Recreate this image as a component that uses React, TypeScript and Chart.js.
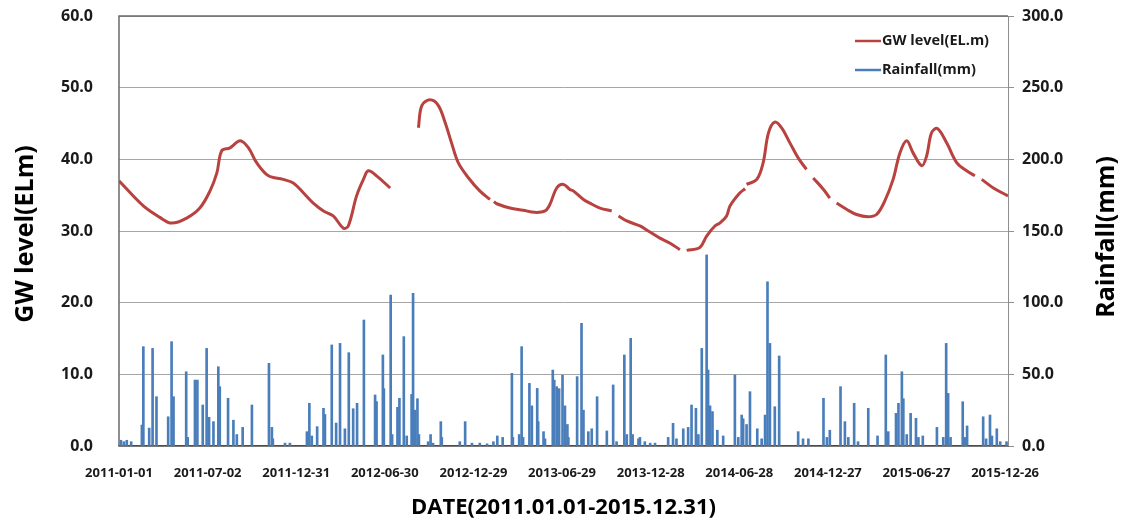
import React, { useEffect, useRef } from 'react';
import { Chart, registerables } from 'chart.js';

Chart.register(...registerables);

// ---------- data ----------
const startDate = '2011-01-01';
const xTickLabels = [
  '2011-01-01', '2011-07-02', '2011-12-31', '2012-06-30', '2012-12-29', '2013-06-29',
  '2013-12-28', '2014-06-28', '2014-12-27', '2015-06-27', '2015-12-26',
];
const xAxisTitle = 'DATE(2011.01.01-2015.12.31)';
const leftAxisTitle = 'GW level(ELm)';
const rightAxisTitle = 'Rainfall(mm)';
const seriesNames = ['GW level(EL.m)', 'Rainfall(mm)'];

// day offsets from 2011-01-01 and groundwater level (null = missing record)
const gwDays = [
  0, 50, 84, 108, 139, 166, 187, 201, 211, 228, 249, 266, 283, 307, 337, 358, 379, 399, 420, 440,
  461, 471, 488, 502, 512, 529, 557, 558, 615, 622, 639, 656, 670, 683, 697, 718, 741, 762, 766,
  770, 776, 803, 830, 854, 875, 885, 899, 913, 926, 933, 954, 967, 988, 1012, 1020, 1026, 1043,
  1070, 1087, 1111, 1132, 1152, 1158, 1166, 1193, 1207, 1224, 1234, 1248, 1255, 1275, 1286, 1287,
  1289, 1310, 1323, 1334, 1347, 1361, 1378, 1395, 1412, 1418, 1426, 1447, 1460, 1466, 1474, 1495,
  1515, 1538, 1556, 1573, 1590, 1604, 1618, 1631, 1649, 1659, 1669, 1681, 1700, 1721, 1741, 1758,
  1764, 1772, 1796, 1826,
];
const gwLevels = [
  37.0, 33.5, 31.9, 31.1, 31.8, 33.2, 35.6, 38.1, 41.2, 41.6, 42.6, 41.6, 39.5, 37.7, 37.2, 36.7, 35.3, 33.9, 32.8, 32.1,
  30.4, 30.7, 34.9, 37.2, 38.4, 37.7, 36.0, null, 44.4, 47.5, 48.3, 47.5, 45.1, 42.3, 39.5, 37.4, 35.6, 34.4, null,
  34.1, 33.8, 33.2, 32.9, 32.6, 32.8, 33.7, 36.0, 36.5, 35.8, 35.6, 34.4, 33.9, 33.2, 32.8, null, 32.1, 31.4,
  30.7, 30.0, 29.0, 28.3, 27.4, null, 27.3, 27.7, 29.3, 30.7, 31.1, 32.1, 33.5, 35.3, 35.9, null,
  36.5, 37.2, 39.5, 43.7, 45.2, 44.4, 42.3, 40.2, 38.6, null, 37.4, 35.8, 34.6, null, 33.9, 33.0,
  32.3, 32.0, 32.3, 34.2, 37.2, 40.9, 42.6, 40.9, 39.1, 40.5, 43.7, 44.3, 42.3, 39.5, 38.4, 37.7,
  null, 37.2, 36.0, 34.9,
];

// day offsets from 2011-01-01 and daily rainfall (mm)
const rainDays = [
  4, 10, 16, 25, 47, 50, 62, 69, 77, 101, 108, 112, 138, 141, 156, 161, 172, 180, 185, 194,
  204, 207, 224, 235, 242, 254, 273, 308, 314, 316, 341, 351, 386, 391, 396, 407, 420, 423, 437, 446,
  454, 464, 472, 481, 489, 503, 526, 529, 542, 544, 558, 561, 572, 576, 585, 591, 601, 604, 608, 613,
  616, 635, 640, 645, 661, 663, 700, 711, 725, 741, 756, 769, 777, 788, 807, 809, 822, 827, 830, 843,
  848, 859, 861, 872, 875, 891, 894, 899, 904, 911, 916, 921, 923, 941, 950, 954, 964, 971, 982, 1002,
  1015, 1022, 1038, 1043, 1051, 1055, 1067, 1070, 1080, 1091, 1101, 1128, 1138, 1145, 1159, 1169, 1176, 1185, 1190, 1197,
  1207, 1210, 1214, 1219, 1229, 1241, 1265, 1272, 1279, 1282, 1289, 1296, 1311, 1320, 1327, 1332, 1337, 1347, 1356, 1395,
  1405, 1416, 1447, 1454, 1460, 1482, 1491, 1498, 1510, 1518, 1539, 1558, 1575, 1580, 1596, 1601, 1608, 1611, 1618, 1626,
  1637, 1642, 1651, 1680, 1693, 1699, 1703, 1708, 1733, 1738, 1742, 1775, 1781, 1789, 1793, 1803, 1810, 1823,
];
const rainValues = [
  4, 3, 4, 3, 14.6, 69.3, 12.5, 68.1, 34.4, 20.4, 72.8, 34.4, 51.8, 6, 46, 46, 28.6, 68.1, 20, 17,
  55.3, 41.4, 33.3, 18, 8, 13, 28.6, 57.7, 13, 5, 2, 2, 10, 29.8, 7, 13.5, 26.3, 22, 70.5, 16,
  71.6, 12, 65.1, 26, 29.8, 87.9, 35.6, 31, 63.5, 40, 105.3, 8, 27, 33.3, 76.3, 7, 36, 106.5, 25, 33,
  8, 3, 8, 2, 17, 6, 3, 17, 2, 2, 1.5, 3, 7, 6, 50.7, 6, 8, 69.3, 6, 43.7,
  28, 40.2, 17, 10, 5, 53, 46, 41.4, 40, 49.5, 28, 15, 6, 48.4, 85.6, 25, 10, 12, 34.4, 10.5,
  42.6, 3, 63.5, 8, 75.1, 8, 5, 6, 3, 2, 2, 6, 15.8, 5, 12, 13, 28.6, 26.3, 8, 68.1,
  133.3, 53, 28, 24, 11, 7, 49.5, 6, 21.6, 19, 15, 37.9, 12, 5, 21.6, 114.6, 71.6, 27.4, 62.8, 10,
  5, 5, 33.3, 6, 11, 41.4, 17, 6, 29.8, 3, 26.3, 7, 63.5, 10, 22.8, 29.8, 51.8, 33, 8, 22.8,
  19.3, 6, 7, 13, 6, 71.6, 36.7, 6, 30.9, 6, 14, 20.4, 5, 21.6, 7, 12, 3, 3,
];

const gwTicks = [0, 10, 20, 30, 40, 50, 60];
const rainTicks = [0, 50, 100, 150, 200, 250, 300];
const lastDay = 1826;

// ---------- helpers ----------
const DAY_MS = 86400000;
const dayOf = (s: string) => Math.round((Date.parse(s) - Date.parse(startDate)) / DAY_MS);
const xTickDays = xTickLabels.map(dayOf);

const FONT = '"Open Sans", "DejaVu Sans", sans-serif';
const GW_COLOR = '#B8423F';
const RAIN_COLOR = '#4A7EBB';

const decorPlugin = {
  id: 'decor',
  beforeDatasetsDraw(chart: any) {
    const { ctx, chartArea: a } = chart;
    ctx.save();
    ctx.strokeStyle = '#6b6b6b';
    ctx.lineWidth = 1.5;
    ctx.beginPath();
    ctx.moveTo(a.left, a.bottom);
    ctx.lineTo(a.left, a.top);
    ctx.lineTo(a.right, a.top);
    ctx.stroke();
    ctx.strokeStyle = '#8f8f8f';
    ctx.lineWidth = 1;
    ctx.beginPath();
    ctx.moveTo(a.right + 0.5, a.top);
    ctx.lineTo(a.right + 0.5, a.bottom);
    ctx.stroke();
    ctx.restore();
  },
  afterDraw(chart: any) {
    const { ctx } = chart;
    ctx.save();
    // legend
    const ds = chart.data.datasets;
    ctx.font = `bold 14.5px ${FONT}`;
    ctx.textBaseline = 'middle';
    ctx.textAlign = 'left';
    const legendY = [41, 70];
    ds.forEach((d: any, i: number) => {
      const y = legendY[i];
      ctx.strokeStyle = d.legendColor;
      ctx.lineWidth = 2.5;
      ctx.beginPath();
      ctx.moveTo(855, y);
      ctx.lineTo(881, y);
      ctx.stroke();
      ctx.fillStyle = '#1a1a1a';
      ctx.fillText(d.label, 882, y);
    });
    // axis titles (both read bottom-to-top)
    ctx.font = `bold 25px ${FONT}`;
    ctx.fillStyle = '#000';
    ctx.textAlign = 'center';
    [[26, 234, leftAxisTitle], [1107, 237, rightAxisTitle]].forEach(([x, y, t]) => {
      ctx.save();
      ctx.translate(x as number, y as number);
      ctx.rotate(-Math.PI / 2);
      ctx.fillText(t as string, 0, 0);
      ctx.restore();
    });
    ctx.restore();
  },
};

const zeroVPad = (s: any) => {
  s.paddingTop = 0;
  s.paddingBottom = 0;
};

export default function App() {
  const ref = useRef<HTMLCanvasElement | null>(null);

  useEffect(() => {
    if (!ref.current) return;
    const chart = new Chart(ref.current, {
      type: 'bar',
      data: {
        datasets: [
          {
            type: 'line',
            label: seriesNames[0],
            legendColor: GW_COLOR,
            data: gwDays.map((d, i) => ({ x: d, y: gwLevels[i] })),
            borderColor: GW_COLOR,
            borderWidth: 3,
            pointRadius: 0,
            tension: 0.35,
            spanGaps: false,
            yAxisID: 'y',
            order: 0,
          } as any,
          {
            type: 'bar',
            label: seriesNames[1],
            legendColor: RAIN_COLOR,
            data: rainDays.map((d, i) => ({ x: d, y: rainValues[i] })),
            backgroundColor: RAIN_COLOR,
            barThickness: 2,
            yAxisID: 'y1',
            order: 1,
          } as any,
        ],
      },
      options: {
        animation: false,
        responsive: false,
        layout: { padding: { top: 16, left: 0, right: 0, bottom: 0 } },
        plugins: { legend: { display: false }, tooltip: { enabled: false } },
        scales: {
          x: {
            type: 'linear',
            min: 0,
            max: lastDay,
            offset: false,
            grid: { display: false },
            border: { display: true, color: '#4d4d4d', width: 1.5 },
            afterBuildTicks: (s: any) => {
              s.ticks = xTickDays.map((v) => ({ value: v }));
            },
            afterFit: (s: any) => {
              s.height = 77;
              s.paddingLeft = 0;
              s.paddingRight = 0;
            },
            ticks: {
              autoSkip: false,
              maxRotation: 0,
              padding: 11,
              color: '#1a1a1a',
              font: { family: FONT, size: 13, weight: 'bold' },
              callback: (v: any) => xTickLabels[xTickDays.indexOf(Number(v))] ?? '',
            },
            title: {
              display: true,
              text: xAxisTitle,
              color: '#000',
              font: { family: FONT, size: 22, weight: 'bold' },
              padding: { top: 0, bottom: 2 },
            },
          },
          y: {
            position: 'left',
            min: 0,
            max: 60,
            afterBuildTicks: (s: any) => {
              s.ticks = gwTicks.map((v) => ({ value: v }));
            },
            afterFit: (s: any) => {
              s.width = 119;
              zeroVPad(s);
            },
            grid: { color: '#a6a6a6', lineWidth: 1, drawTicks: false },
            border: { display: false },
            ticks: {
              padding: 26,
              color: '#1a1a1a',
              font: { family: FONT, size: 16, weight: 'bold' },
              callback: (v: any) => Number(v).toFixed(1),
            },
          },
          y1: {
            position: 'right',
            min: 0,
            max: 300,
            afterBuildTicks: (s: any) => {
              s.ticks = rainTicks.map((v) => ({ value: v }));
            },
            afterFit: (s: any) => {
              s.width = 118;
              zeroVPad(s);
            },
            grid: { drawOnChartArea: false, drawTicks: true, tickLength: 6, color: '#8f8f8f' },
            border: { display: false },
            ticks: {
              padding: 8,
              color: '#1a1a1a',
              font: { family: FONT, size: 16, weight: 'bold' },
              callback: (v: any) => Number(v).toFixed(1),
            },
          },
        },
      } as any,
      plugins: [decorPlugin],
    });
    return () => chart.destroy();
  }, []);

  return (
    <div style={{ position: 'absolute', left: 0, top: 0, width: 1126, height: 523, background: '#fff' }}>
      <canvas ref={ref} width={1126} height={523} />
    </div>
  );
}
